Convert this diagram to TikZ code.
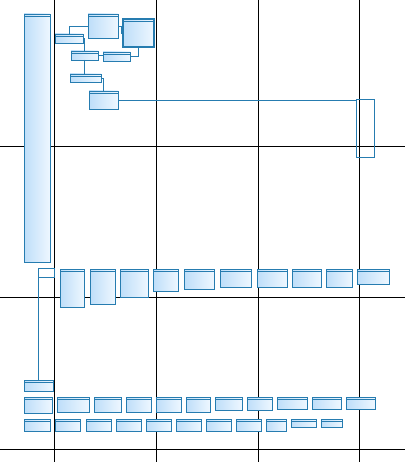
\documentclass[tikz,border=0pt]{standalone}
\usetikzlibrary{positioning}
\definecolor{clsline}{RGB}{38,124,176}
\definecolor{clsdark}{RGB}{190,222,249}
\definecolor{clslight}{RGB}{238,247,255}
\tikzset{
x=1pt, y=-1pt, % one unit is one pixel of the sheet, y runs down
cls/.style={draw=clsline, line width=0.9pt, anchor=north west, inner sep=0pt, outer sep=0pt,
  left color=clsdark, right color=clslight,
  path picture={\draw[clsline, line width=0.6pt] ([yshift=-2.6pt]path picture bounding box.north west) -- ([yshift=-2.6pt]path picture bounding box.north east);}}, % a class box with its header bar
frame/.style={draw=clsline, line width=0.9pt, anchor=north west, inner sep=0pt, outer sep=0pt}, % an empty box
link/.style={draw=clsline, line width=0.8pt}, % connector between classes
pageline/.style={black, line width=0.9pt}, % page breaks of the sheet
}

\begin{document}
\begin{tikzpicture}
    \useasboundingbox (0,0) rectangle (405,462);
    % page breaks
    \draw[pageline] (54,0) -- (54,462) (156,0) -- (156,462) (258,0) -- (258,462) (359,0) -- (359,462);
    \draw[pageline] (0,146) -- (405,146) (0,297) -- (405,297) (0,449) -- (405,449);

    % upper group
    \node[cls, minimum width=26, minimum height=248] (base) at (24,14) {};
    \node[cls, minimum width=28, minimum height=9] (ca) at (55,34) {};
    \node[cls, minimum width=30, minimum height=24] (cb) at (88,14) {};
    \node[cls, line width=1.3pt, minimum width=31, minimum height=28] (cc) at (123,19) {};
    \node[cls, minimum width=27, minimum height=9] (cd) at (71,51) {};
    \node[cls, minimum width=27, minimum height=9] (ce) at (103,52) {};
    \node[cls, minimum width=31, minimum height=8] (cf) at (70,74) {};
    \node[cls, minimum width=29, minimum height=18] (cg) at (89,91) {};
    \node[frame, minimum width=18, minimum height=58] (ch) at (356,99) {};

    \draw[link] (ca.north) |- (cb.west);
    \draw[link] (cb.east) -- ++(3,0) |- (cc.west);
    \draw[link] (ca.east) -| (cd.north);
    \draw[link] (cd.east) -- (cd.east -| ce.west);
    \draw[link] (ce.east) -| (cc.south);
    \draw[link] (cd.south) -- (cd.south |- cf.north);
    \draw[link] (cf.east) -| (cg.north);
    \draw[link] (cg.east) -- (cg.east -| ch.west);

    % first row
    \node[frame, minimum width=16, minimum height=9] (pk) at (38,268) {};
    \node[cls, minimum width=24, minimum height=38] (ra1) at (60,269) {};
    \node[cls, minimum width=25, minimum height=35] (ra2) at (90,269) {};
    \node[cls, minimum width=28, minimum height=28] (ra3) at (120,269) {};
    \node[cls, minimum width=25, minimum height=22] (ra4) at (153,269) {};
    \node[cls, minimum width=30, minimum height=20] (ra5) at (184,269) {};
    \node[cls, minimum width=31, minimum height=18] (ra6) at (220,269) {};
    \node[cls, minimum width=30, minimum height=18] (ra7) at (257,269) {};
    \node[cls, minimum width=29, minimum height=18] (ra8) at (292,269) {};
    \node[cls, minimum width=26, minimum height=18] (ra9) at (326,269) {};
    \node[cls, minimum width=32, minimum height=15] (ra10) at (357,269) {};

    % lower rows
    \node[cls, minimum width=29, minimum height=11] (rq) at (24,380) {};
    \draw[link] (pk.south west) -- (pk.south west |- rq.north);

    \node[cls, minimum width=28, minimum height=16] (rb1) at (24,397) {};
    \node[cls, minimum width=32, minimum height=15] (rb2) at (57,397) {};
    \node[cls, minimum width=27, minimum height=15] (rb3) at (94,397) {};
    \node[cls, minimum width=25, minimum height=15] (rb4) at (126,397) {};
    \node[cls, minimum width=25, minimum height=15] (rb5) at (156,397) {};
    \node[cls, minimum width=24, minimum height=15] (rb6) at (186,397) {};
    \node[cls, minimum width=27, minimum height=13] (rb7) at (215,397) {};
    \node[cls, minimum width=25, minimum height=13] (rb8) at (247,397) {};
    \node[cls, minimum width=30, minimum height=12] (rb9) at (277,397) {};
    \node[cls, minimum width=29, minimum height=12] (rb10) at (312,397) {};
    \node[cls, minimum width=29, minimum height=12] (rb11) at (346,397) {};

    \node[cls, minimum width=26, minimum height=12] (rc1) at (24,419) {};
    \node[cls, minimum width=25, minimum height=12] (rc2) at (55,419) {};
    \node[cls, minimum width=25, minimum height=12] (rc3) at (86,419) {};
    \node[cls, minimum width=25, minimum height=12] (rc4) at (116,419) {};
    \node[cls, minimum width=25, minimum height=12] (rc5) at (146,419) {};
    \node[cls, minimum width=25, minimum height=12] (rc6) at (176,419) {};
    \node[cls, minimum width=25, minimum height=12] (rc7) at (206,419) {};
    \node[cls, minimum width=25, minimum height=12] (rc8) at (236,419) {};
    \node[cls, minimum width=20, minimum height=12] (rc9) at (266,419) {};
    \node[cls, minimum width=25, minimum height=8] (rc10) at (291,419) {};
    \node[cls, minimum width=21, minimum height=8] (rc11) at (321,419) {};
  \end{tikzpicture}
\end{document}
